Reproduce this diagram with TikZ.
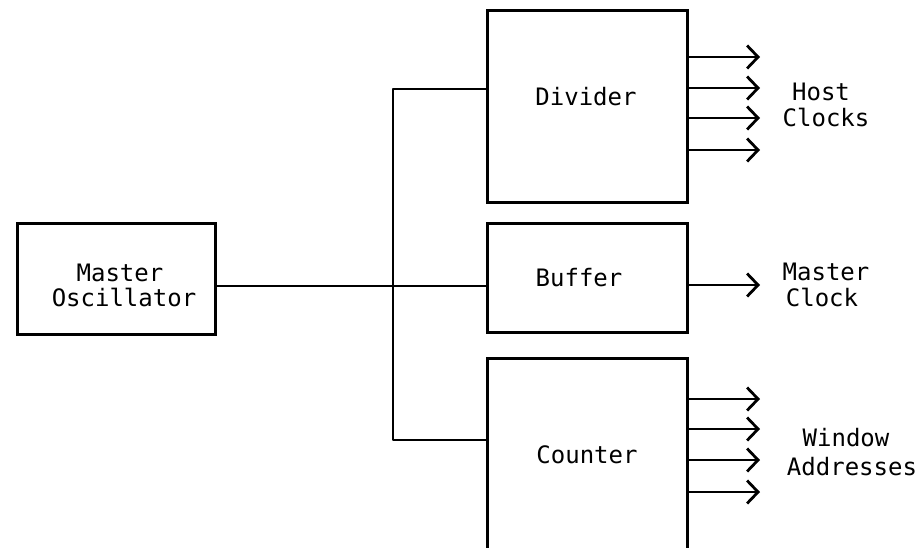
\documentclass[tikz,border=0pt]{standalone}
\usepackage{fontspec}
\newfontfamily\plotfont{DejaVu Sans Mono}
\usetikzlibrary{arrows.meta}
\begin{document}
\begin{tikzpicture}[x=1pt,y=-1pt,
  wire/.style={line width=2.8pt,line join=round},
  outarrow/.style={wire,-{Straight Barb[length=11pt,width=23pt,line width=2.8pt]}},
  block/.style={draw,line width=3pt,rectangle,inner sep=0pt},
  txt/.style={anchor=base,inner sep=0pt,font=\plotfont\fontsize{24}{28}\selectfont}]
\useasboundingbox (0,0) rectangle (922,547);
\clip (0,0) rectangle (922,547);
% blocks
\node[block,minimum width=198pt,minimum height=111pt] (mo) at (116,278.5) {};
\node[block,minimum width=200pt,minimum height=192pt] (div) at (587,106) {};
\node[block,minimum width=200pt,minimum height=109pt] (buf) at (587,277.5) {};
\node[block,minimum width=200pt,minimum height=212pt] (cnt) at (587,464) {};
% block texts
\node[txt] (t1) at (120,281.5) {Master};
\node[txt] (t2) at (124,306.5) {Oscillator};
\node[txt] (t3) at (586,105.5) {Divider};
\node[txt] (t4) at (579,286.5) {Buffer};
\node[txt] (t5) at (587,463.5) {Counter};
% output labels
\node[txt] (l1) at (821,100.5) {Host};
\node[txt] (l2) at (826,126.5) {Clocks};
\node[txt] (l3) at (826,280.5) {Master};
\node[txt] (l4) at (822,306.5) {Clock};
\node[txt] (l5) at (846,446.5) {Window};
\node[txt] (l6) at (852,475.5) {Addresses};
% bus
\coordinate (j) at (393,286);
\coordinate (btop) at (393,89);
\coordinate (bbot) at (393,440);
\draw[wire] (mo.east |- j) -- (j) -- (buf.west |- j);
\draw[wire] (div.west |- btop) -- (btop) -- (bbot) -- (cnt.west |- bbot);
% outputs
\foreach \y [count=\i] in {57,88,118,150} {
  \coordinate (dh\i) at (760,\y);
  \draw[outarrow] (div.east |- dh\i) -- (dh\i);
}
\coordinate (bh) at (760,285);
\draw[outarrow] (buf.east |- bh) -- (bh);
\foreach \y [count=\i] in {399,429,460,492} {
  \coordinate (ch\i) at (760,\y);
  \draw[outarrow] (cnt.east |- ch\i) -- (ch\i);
}
\end{tikzpicture}
\end{document}
